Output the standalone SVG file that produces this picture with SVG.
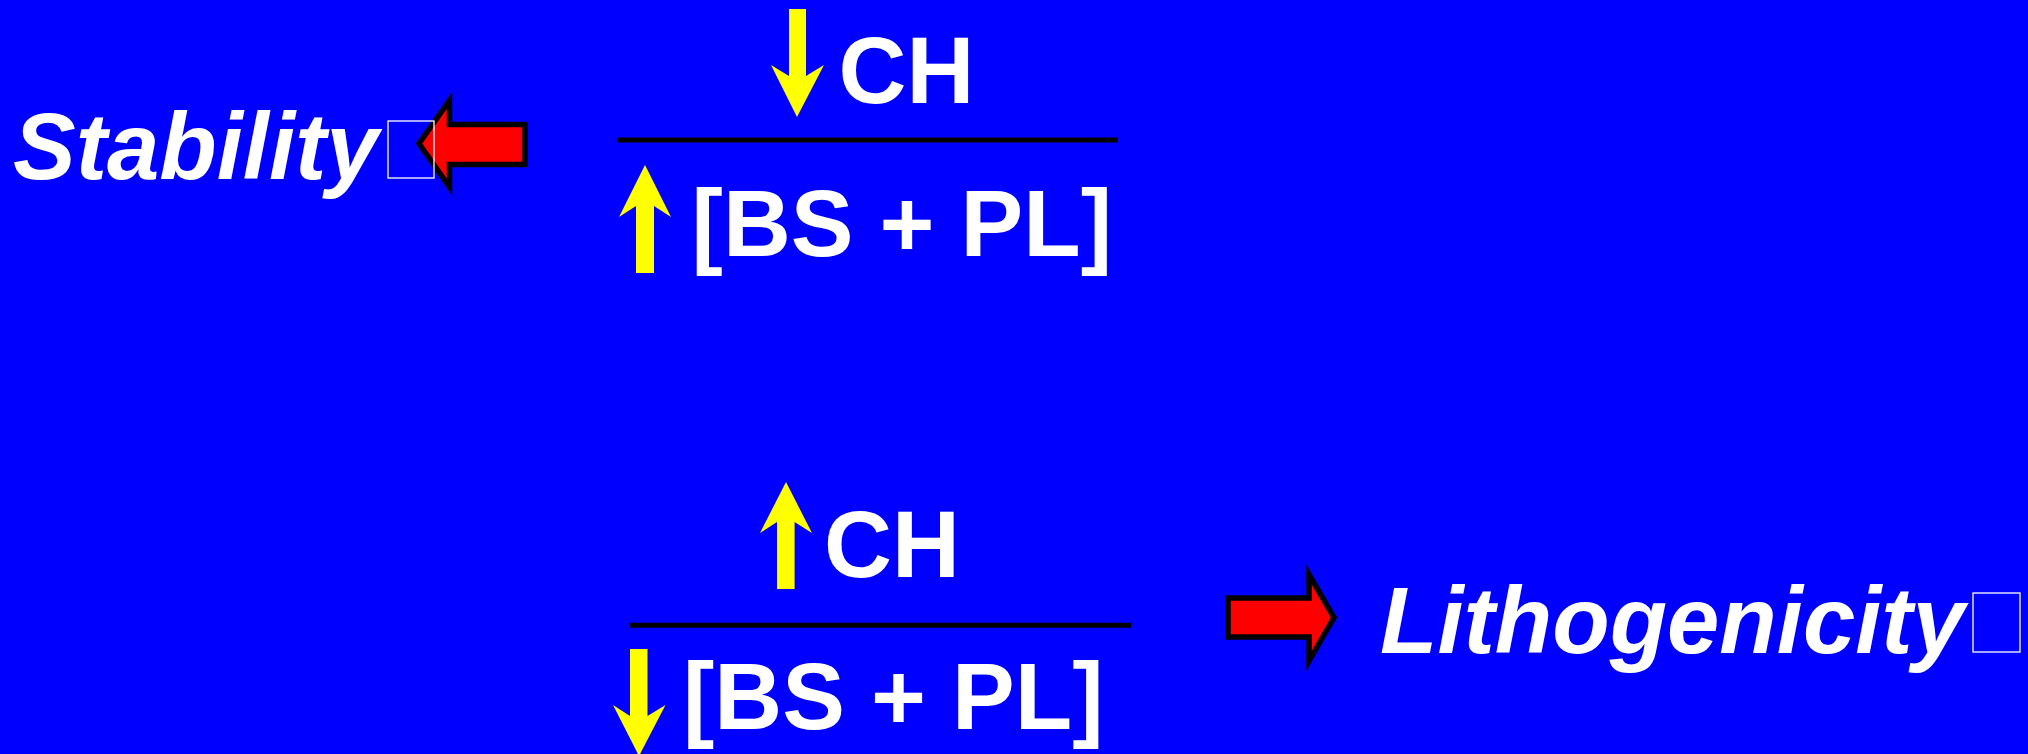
<svg xmlns="http://www.w3.org/2000/svg" width="2028" height="754" viewBox="0 0 2028 754">
  <defs>
    <style>
      .t { font-family: "Liberation Sans", Arial, sans-serif; font-weight: bold; font-size: 94px; fill: #FFFFFF; }
      .it { font-style: italic; }
      .yel { fill: #FFFF00; }
      .red { fill: #FF0000; stroke: #000000; stroke-width: 5.5; stroke-linejoin: miter; stroke-miterlimit: 10; }
      .bar { stroke: #000000; stroke-width: 5; }
      .tofu { fill: none; stroke: #FFFFFF; stroke-width: 1.3; }
    </style>
  </defs>
  <rect x="0" y="0" width="2028" height="754" fill="#0000FF"/>

  <g id="connectors">
    <polygon class="red" points="419,143.5 449.5,100.5 449.5,124.5 525,124.5 525,164.5 449.5,164.5 449.5,187"/>
    <polygon class="red" points="1228,598 1309,598 1309,574.5 1334,617.5 1309,661 1309,637 1228,637"/>
  </g>

  <g id="stability">
    <text class="t it" x="13" y="178.5">Stability</text>
    <rect class="tofu" x="388" y="121" width="46" height="57"/>
  </g>

  <g id="ratio-top">
    <polygon class="yel" points="789,9 806,9 806,76 824,65 797,117 771,65 789,76"/>
    <text class="t" x="838.6" y="103.3">CH</text>
    <line class="bar" x1="617" y1="140" x2="1118" y2="140"/>
    <polygon class="yel" points="645,165 671,217 654,206 654,273 636,273 636,206 619,217"/>
    <text class="t" x="691.6" y="255.7">[BS + PL]</text>
  </g>

  <g id="ratio-bottom">
    <polygon class="yel" points="786,482 812,533 794.6,522 794.6,589 777,589 777,522 760,533"/>
    <text class="t" x="824" y="576.7">CH</text>
    <line class="bar" x1="630" y1="625.3" x2="1131" y2="625.3"/>
    <polygon class="yel" points="630,649 647.5,649 647.5,716 665.5,705 639,756 613,705 630,716"/>
    <text class="t" x="683" y="729">[BS + PL]</text>
  </g>

  <g id="lithogenicity">
    <text class="t it" x="1380" y="652.5">Lithogenicity</text>
    <rect class="tofu" x="1973" y="593" width="47" height="59"/>
  </g>
</svg>
